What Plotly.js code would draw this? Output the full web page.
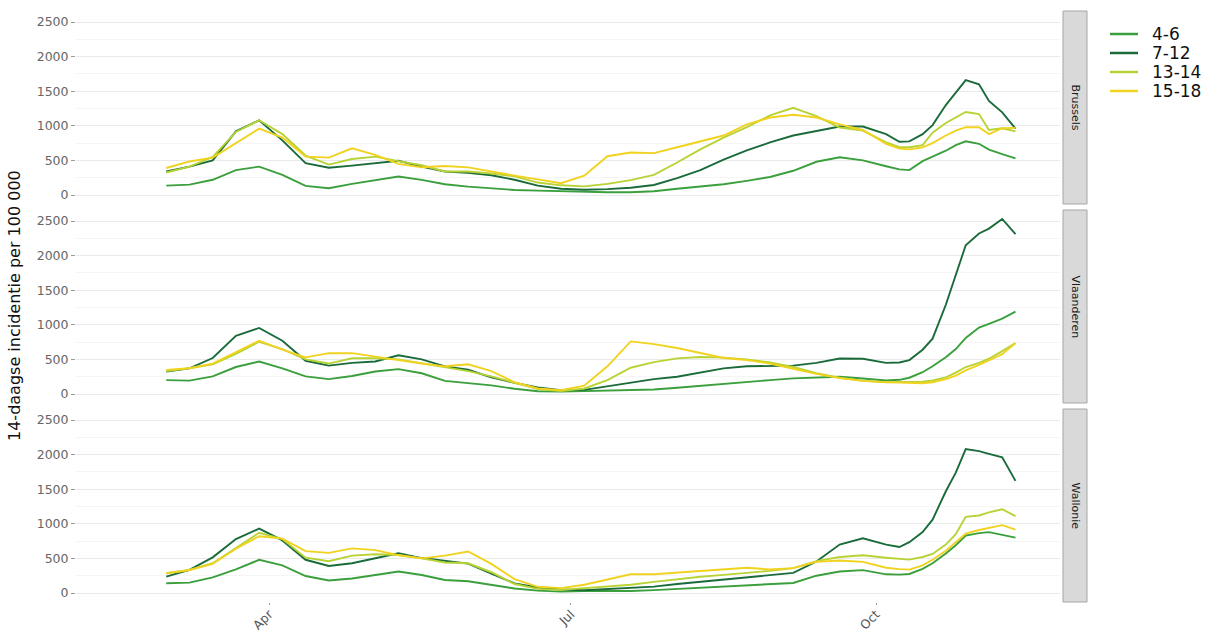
<!DOCTYPE html>
<html>
<head>
<meta charset="utf-8">
<script src="https://cdn.plot.ly/plotly-3.0.1.min.js"></script>
<style>html,body{margin:0;padding:0;background:#fff;}#chart{width:1206px;height:636px;}</style>
</head>
<body>
<div id="chart"></div>
<script>
// ---- data ----
const dates = ["2021-03-01","2021-03-08","2021-03-15","2021-03-22","2021-03-29","2021-04-05","2021-04-12","2021-04-19","2021-04-26",
  "2021-05-03","2021-05-10","2021-05-17","2021-05-24","2021-05-31","2021-06-07","2021-06-14","2021-06-21","2021-06-28",
  "2021-07-05","2021-07-12","2021-07-19","2021-07-26","2021-08-02","2021-08-09","2021-08-16","2021-08-23","2021-08-30",
  "2021-09-06","2021-09-13","2021-09-20","2021-09-27","2021-10-04","2021-10-08","2021-10-11","2021-10-15","2021-10-18",
  "2021-10-22","2021-10-25","2021-10-28","2021-11-01","2021-11-04","2021-11-08","2021-11-12"];

const groups = ["4-6","7-12","13-14","15-18"];
const regions = ["Brussels","Vlaanderen","Wallonie"];
const colors = ["#3a9f3c","#1a6b3a","#b7d334","#f1d21f"];

const brussels_4_6   = [136,150,220,360,410,291,131,97,160,218,267,218,155,121,92,73,63,55,45,40,40,55,90,125,155,205,260,350,480,545,500,415,370,360,490,555,640,720,776,740,655,590,530];
const brussels_7_12  = [340,410,500,920,1080,790,460,395,425,460,495,410,340,320,285,220,135,90,75,85,105,145,245,360,510,645,760,860,925,990,990,880,770,775,880,1010,1300,1480,1660,1600,1360,1195,960];
const brussels_13_14 = [325,410,550,911,1080,880,570,440,520,555,490,430,340,340,310,270,180,140,125,160,215,290,470,660,830,980,1150,1260,1140,975,930,760,690,690,720,900,1040,1120,1200,1170,940,965,920];
const brussels_15_18 = [390,485,540,750,960,830,555,540,675,580,450,400,420,400,335,280,225,170,280,560,615,605,690,780,860,1020,1120,1160,1120,1020,940,740,670,660,690,750,860,930,980,980,880,965,970];

const vlaanderen_4_6   = [200,193,255,390,470,370,255,215,260,325,360,300,190,160,125,75,40,35,43,52,60,65,90,115,145,175,200,226,240,250,225,195,205,235,315,400,530,650,810,960,1015,1090,1190];
const vlaanderen_7_12  = [325,370,520,840,955,770,480,410,450,470,560,500,400,350,240,160,95,55,60,110,155,215,250,310,370,400,409,410,450,512,510,450,455,490,640,800,1290,1720,2150,2320,2390,2530,2310];
const vlaanderen_13_14 = [333,372,430,580,755,650,500,440,517,517,500,440,390,330,255,160,70,42,80,200,380,460,515,535,525,500,455,390,300,235,190,170,170,172,178,195,240,310,390,450,510,620,735];
const vlaanderen_15_18 = [348,372,440,600,770,640,530,590,590,540,485,440,400,430,330,170,80,55,120,400,760,720,665,590,520,490,440,365,290,230,190,172,162,158,155,170,215,265,340,420,485,575,735];

const wallonie_4_6   = [140,150,225,340,480,400,245,180,210,265,310,260,188,170,115,65,35,20,30,30,30,42,60,75,92,110,125,145,250,310,330,270,265,275,350,430,570,690,830,865,880,845,800];
const wallonie_7_12  = [237,333,515,780,930,760,480,390,430,500,575,505,460,425,280,140,80,50,40,60,80,92,130,160,190,220,255,290,455,700,790,700,665,735,880,1060,1470,1740,2080,2050,2010,1960,1620];
const wallonie_13_14 = [285,333,430,655,870,780,510,460,540,560,550,500,440,430,300,130,60,45,70,95,120,160,200,235,262,290,320,360,460,520,545,510,495,482,520,565,700,850,1100,1120,1165,1210,1110];
const wallonie_15_18 = [285,333,420,640,820,785,605,580,645,620,545,500,540,600,420,200,90,70,120,200,270,270,295,320,350,365,340,360,450,470,450,365,345,338,400,480,610,735,860,910,940,980,915];

const xTickVals = ["2021-04-01","2021-07-01","2021-10-01"];
const xTickText = ["Apr","Jul","Oct"];
const yTickVals = [0,500,1000,1500,2000,2500];
const yTitle = "14-daagse incidentie per 100 000";

const seriesByRegion = [
  [brussels_4_6, brussels_7_12, brussels_13_14, brussels_15_18],
  [vlaanderen_4_6, vlaanderen_7_12, vlaanderen_13_14, vlaanderen_15_18],
  [wallonie_4_6, wallonie_7_12, wallonie_13_14, wallonie_15_18]
];

// ---- layout geometry (pixels) ----
const W = 1206, H = 636;
const mL = 76, mR = 119, mT = 11, mB = 34;
const plotW = W - mL - mR, plotH = H - mT - mB;
const panelRight = 1060, stripL = 1063, stripR = 1087;
const panelsPx = [[11,204],[210,403],[409,602]];
const px2x = p => (p - mL) / plotW;
const py2y = p => (H - mB - p) / plotH;

const xRange = ["2021-02-01 19:00","2021-11-25 10:00"];
const yRange = [-130, 2659];

const traces = [];
seriesByRegion.forEach((sers, r) => {
  const sfx = r === 0 ? "" : String(r + 1);
  sers.forEach((vals, g) => {
    traces.push({
      type: "scatter", mode: "lines",
      x: dates, y: vals,
      name: groups[g], legendgroup: groups[g],
      showlegend: false,
      line: {color: colors[g], width: 1.9},
      xaxis: "x" + sfx, yaxis: "y" + sfx,
      hoverinfo: "x+y+name"
    });
  });
});

const tickFont = {family: "DejaVu Sans, sans-serif", size: 12.5, color: "#666"};
const layout = {
  width: W, height: H,
  margin: {l: mL, r: mR, t: mT, b: mB},
  paper_bgcolor: "#fff", plot_bgcolor: "#fff",
  font: {family: "DejaVu Sans, sans-serif"},
  showlegend: false,
  shapes: [],
  annotations: []
};

panelsPx.forEach((p, r) => {
  const sfx = r === 0 ? "" : String(r + 1);
  const dom = [py2y(p[1]), py2y(p[0])];
  const isBottom = r === 2;
  layout["xaxis" + sfx] = {
    domain: [0, px2x(panelRight)], anchor: "y" + sfx, type: "date",
    range: xRange, showgrid: false, zeroline: false,
    showline: false,
    tickvals: xTickVals, ticktext: xTickText,
    showticklabels: isBottom, ticks: isBottom ? "outside" : "",
    ticklen: 2, tickcolor: "#999", tickangle: -45, ticklabelstandoff: -3,
    tickfont: {family: "DejaVu Sans, sans-serif", size: 12.5, color: "#555"}
  };
  layout["yaxis" + sfx] = {
    domain: dom, anchor: "x" + sfx, range: yRange,
    tickvals: yTickVals, showgrid: true, gridcolor: "#e9e9e9", gridwidth: 1,
    zeroline: false, showline: false,
    ticks: "outside", ticklen: 4, tickcolor: "#999", tickfont: tickFont,
    minor: {tickvals: [250,750,1250,1750,2250], showgrid: true, gridcolor: "#f5f5f5", ticks: ""}
  };
  layout.shapes.push({
    type: "rect", xref: "paper", yref: "paper",
    x0: px2x(stripL), x1: px2x(stripR), y0: dom[0], y1: dom[1],
    fillcolor: "#d9d9d9", line: {color: "#a6a6a6", width: 1}
  });
  layout.annotations.push({
    xref: "paper", yref: "paper",
    x: px2x((stripL + stripR) / 2), y: (dom[0] + dom[1]) / 2,
    text: regions[r], showarrow: false, textangle: 90,
    font: {family: "DejaVu Sans, sans-serif", size: 11, color: "#1a1a1a"},
    xanchor: "center", yanchor: "middle"
  });
});

// legend (keys drawn as short lines with labels)
groups.forEach((g, i) => {
  const yy = py2y(34 + 19 * i);
  layout.shapes.push({
    type: "line", xref: "paper", yref: "paper",
    x0: px2x(1110), x1: px2x(1138), y0: yy, y1: yy,
    line: {color: colors[i], width: 2.5}
  });
  layout.annotations.push({
    xref: "paper", yref: "paper", x: px2x(1150), y: yy,
    text: g, showarrow: false, xanchor: "left", yanchor: "middle",
    font: {family: "DejaVu Sans, sans-serif", size: 17, color: "#111"}
  });
});

layout.annotations.push({
  xref: "paper", yref: "paper",
  x: px2x(14), y: py2y(306), text: yTitle, showarrow: false, textangle: -90,
  font: {family: "DejaVu Sans, sans-serif", size: 16, color: "#111"},
  xanchor: "center", yanchor: "middle"
});

Plotly.newPlot("chart", traces, layout, {displayModeBar: false, staticPlot: true});
</script>
</body>
</html>
